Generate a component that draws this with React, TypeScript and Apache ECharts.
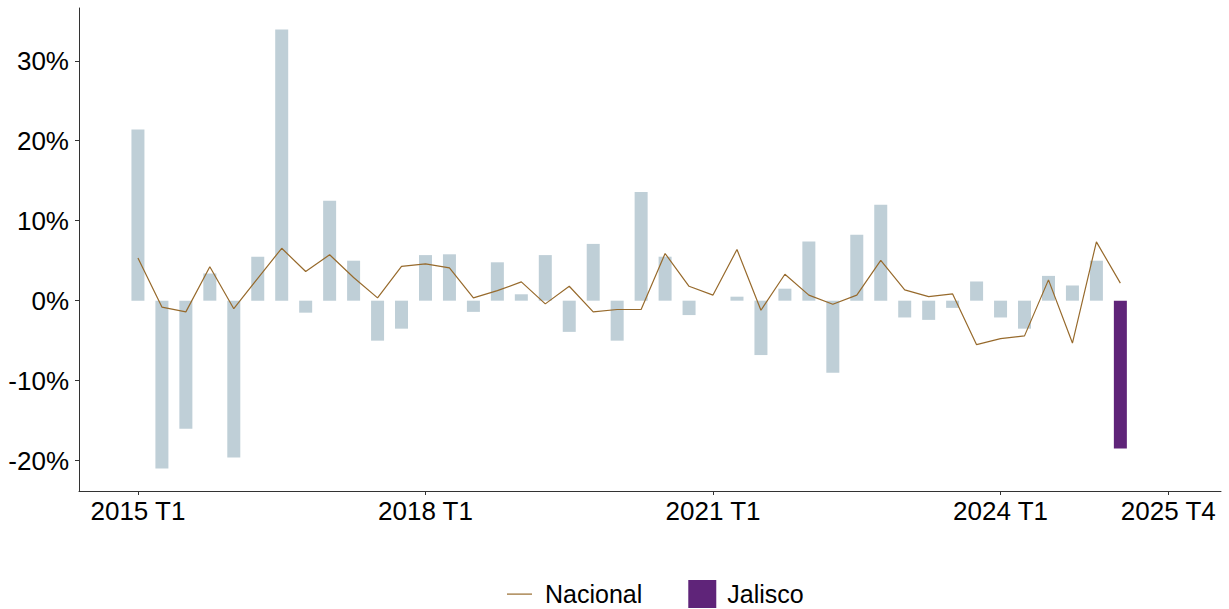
import React, { useEffect, useRef } from "react";
import * as echarts from "echarts";

// Quarters from 2015 T1 (index 0)
const startYear = 2015;
const jaliscoValues: number[] = [
  21.4, -21.0, -16.0, 3.4, -19.6, 5.5, 33.9, -1.5, 12.5, 5.0,
  -5.0, -3.5, 5.7, 5.8, -1.4, 4.8, 0.8, 5.7, -3.9, 7.1,
  -5.0, 13.6, 5.5, -1.8, 0, 0.5, -6.8, 1.5, 7.4, -9.0,
  8.25, 12.0, -2.1, -2.4, -0.9, 2.4, -2.1, -3.5, 3.1, 1.9,
  5.0, -18.5,
];
const nacionalValues: number[] = [
  5.35, -0.8, -1.4, 4.25, -1.0, 2.8, 6.55, 3.65, 5.75, 2.9,
  0.35, 4.3, 4.6, 4.1, 0.35, 1.25, 2.35, -0.4, 1.8, -1.4,
  -1.1, -1.1, 5.9, 1.8, 0.7, 6.4, -1.2, 3.3, 0.7, -0.45,
  0.7, 5.05, 1.35, 0.5, 0.85, -5.5, -4.75, -4.4, 2.6, -5.3,
  7.35, 2.2,
];
const xTickIndices: number[] = [0, 12, 24, 36, 43];
const yTickValues: number[] = [-20, -10, 0, 10, 20, 30];

const GREY = "#bfcfd7";
const PURPLE = "#5f2479";
const BROWN = "#976a2c";
const FONT = "Liberation Sans";

function quarterLabel(i: number): string {
  const idx = Math.round(i);
  return `${startYear + Math.floor(idx / 4)} T${(idx % 4) + 1}`;
}

export default function App() {
  const ref = useRef<HTMLDivElement>(null);
  useEffect(() => {
    if (!ref.current) return;
    const chart = echarts.init(ref.current, undefined, { renderer: "svg" });
    const last = jaliscoValues.length - 1;
    chart.setOption({
      animation: false,
      backgroundColor: "#ffffff",
      grid: { left: 79, right: 8, top: 8, bottom: 118, containLabel: false },
      legend: {
        left: 501,
        top: 575,
        itemWidth: 28,
        itemHeight: 28,
        itemGap: 46,
        textStyle: { fontSize: 25, color: "#000", fontFamily: FONT, padding: [0, 0, 0, 6] },
        data: [
          { name: "Nacional", icon: "path://M0,0M1,13.5H26V14.7H1ZM28,28" },
          { name: "Jalisco", icon: "rect" },
        ],
      },
      xAxis: {
        type: "value",
        min: -2.46,
        max: 45.2,
        splitLine: { show: false },
        axisLine: { show: true, onZero: false, lineStyle: { color: "#333", width: 1 } },
        axisTick: {
          show: true,
          length: 4,
          customValues: xTickIndices,
          lineStyle: { color: "#333" },
        },
        axisLabel: {
          customValues: xTickIndices,
          formatter: (v: number) => quarterLabel(v),
          fontSize: 26,
          color: "#000",
          fontFamily: FONT,
          margin: 7,
        },
      },
      yAxis: {
        type: "value",
        min: -23.8,
        max: 36.6,
        splitLine: { show: false },
        axisLine: { show: true, onZero: false, lineStyle: { color: "#333", width: 1 } },
        axisTick: {
          show: true,
          length: 4,
          customValues: yTickValues,
          lineStyle: { color: "#333" },
        },
        axisLabel: {
          customValues: yTickValues,
          formatter: (v: number) => `${v}%`,
          fontSize: 26,
          color: "#000",
          fontFamily: FONT,
          margin: 10,
        },
      },
      series: [
        {
          name: "Jalisco",
          type: "bar",
          barWidth: 13,
          color: PURPLE,
          data: jaliscoValues.map((v, i) => ({
            value: [i, v],
            itemStyle: { color: i === last ? PURPLE : GREY },
          })),
          z: 2,
        },
        {
          name: "Nacional",
          type: "line",
          symbol: "none",
          color: BROWN,
          lineStyle: { color: BROWN, width: 1.2 },
          data: nacionalValues.map((v, i) => [i, v]),
          z: 3,
        },
      ],
    });
    return () => chart.dispose();
  }, []);
  return (
    <div
      ref={ref}
      style={{ position: "fixed", left: 0, top: 0, width: 1229, height: 609, background: "#fff" }}
    />
  );
}
